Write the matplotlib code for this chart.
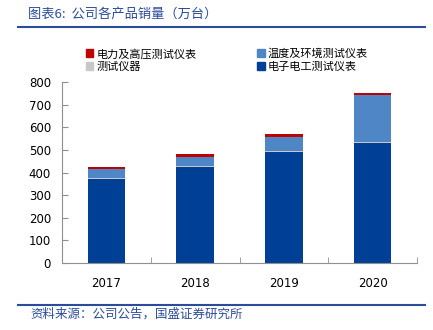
import matplotlib
matplotlib.use("Agg")
import matplotlib.pyplot as plt
from matplotlib.patches import Patch
from matplotlib.lines import Line2D

plt.rcParams['font.family'] = ['Noto Sans CJK SC', 'DejaVu Sans']

years = ['2017', '2018', '2019', '2020']
electronic = [370, 423, 489, 530]      # 电子电工测试仪表
instruments = [4, 5, 6, 7]             # 测试仪器
temperature = [40, 42, 60, 204]        # 温度及环境测试仪表
power = [11, 11, 13, 12]               # 电力及高压测试仪表
y_ticks = [0, 100, 200, 300, 400, 500, 600, 700, 800]

c_dark = '#003F96'
c_gray = '#C8C8C8'
c_light = '#4F86C6'
c_red = '#C00000'
c_title = '#2B4C9B'

W, H = 433, 330
fig = plt.figure(figsize=(W / 100, H / 100), dpi=100)

ax = fig.add_axes([62 / W, 1 - 263 / H, (417 - 62) / W, (263 - 82) / H])
x = list(range(len(years)))
bw = 0.42
bottom = [0] * len(x)
for vals, col in [(electronic, c_dark), (instruments, c_gray),
                  (temperature, c_light), (power, c_red)]:
    ax.bar(x, vals, bw, bottom=bottom, color=col, edgecolor='none', zorder=2)
    bottom = [b + v for b, v in zip(bottom, vals)]

ax.set_xlim(-0.5, 3.5)
ax.set_ylim(0, 800)
ax.set_yticks(y_ticks)
ax.set_yticklabels([str(v) for v in y_ticks], fontsize=8.5, family='DejaVu Sans')
ax.set_xticks(x)
ax.set_xticklabels(years, fontsize=8.5, family='DejaVu Sans')
ax.tick_params(axis='x', length=0, pad=10)
ax.set_xticks([0.5, 1.5, 2.5, 3.5], minor=True)
ax.tick_params(axis='x', which='minor', direction='in', length=4, color='#909090')
ax.tick_params(axis='y', direction='in', length=4, color='#909090', pad=8)
for s in ['top', 'right']:
    ax.spines[s].set_visible(False)
for s in ['left', 'bottom']:
    ax.spines[s].set_color('#909090')
    ax.spines[s].set_linewidth(0.8)

# title and source lines
fig.text(28 / W, 1 - 14 / H, '图表6:  公司各产品销量（万台）', fontsize=9.5,
         color=c_title, va='center', ha='left', style='italic')
fig.add_artist(Line2D([18 / W, 425 / W], [1 - 27 / H, 1 - 27 / H],
                      color=c_title, lw=1.5))
fig.add_artist(Line2D([18 / W, 425 / W], [1 - 305 / H, 1 - 305 / H],
                      color=c_title, lw=1.5))
fig.text(30 / W, 1 - 314 / H, '资料来源：公司公告，国盛证券研究所', fontsize=9,
         color=c_title, va='center', ha='left', style='italic')

handles = [Patch(color=c_red, label='电力及高压测试仪表'),
           Patch(color=c_gray, label='测试仪器'),
           Patch(color=c_light, label='温度及环境测试仪表'),
           Patch(color=c_dark, label='电子电工测试仪表')]
fig.legend(handles=handles, ncol=2, loc='upper left',
           bbox_to_anchor=(80 / W, 1 - 43 / H), frameon=False, fontsize=8,
           handlelength=0.7, handleheight=0.7, handletextpad=0.3,
           columnspacing=5.4, labelspacing=0.25, borderpad=0)

fig.savefig('out.png', dpi=100)
